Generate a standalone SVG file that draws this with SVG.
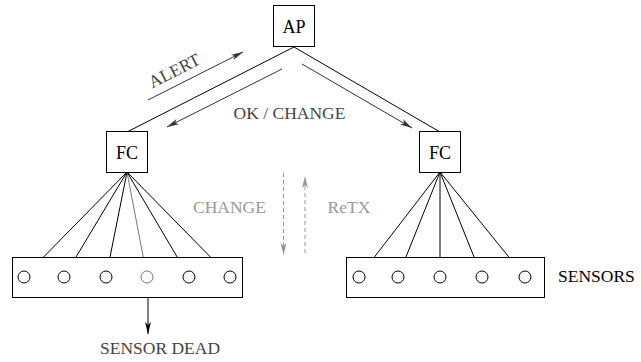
<svg xmlns="http://www.w3.org/2000/svg" width="641" height="362" viewBox="0 0 641 362">
  <style>
    .box { fill: #fff; stroke: #000; stroke-width: 1; }
    .sensor { fill: #fff; stroke: #000; stroke-width: 1; }
    .sensor.dead { stroke: #777; }
    .link { stroke: #000; stroke-width: 1; fill: none; }
    .link.dead { stroke: #777; }
    .msg { stroke: #333; stroke-width: 1; fill: none; }
    .retx { stroke: #999; stroke-width: 1; stroke-dasharray: 4 3; fill: none; }
    text { font-family: "Liberation Serif", "Times New Roman", serif; font-size: 17.5px; }
    .node-label { fill: #000; text-anchor: middle; font-size: 18px; }
    .msg-label { fill: #444; }
    .light-label { fill: #999; }
  </style>
  <defs>
    <marker id="arrow" viewBox="0 0 12 8" refX="12" refY="4" markerWidth="12" markerHeight="8" markerUnits="userSpaceOnUse" orient="auto">
      <path d="M0,1 L12,4 L0,7 L3,4 z" fill="#333"/>
    </marker>
    <marker id="arrow-black" viewBox="0 0 12 8" refX="12" refY="4" markerWidth="12" markerHeight="8" markerUnits="userSpaceOnUse" orient="auto">
      <path d="M0,1 L12,4 L0,7 L3,4 z" fill="#000"/>
    </marker>
    <marker id="arrow-light" viewBox="0 0 12 8" refX="12" refY="4" markerWidth="12" markerHeight="8" markerUnits="userSpaceOnUse" orient="auto">
      <path d="M0,1 L12,4 L0,7 L3,4 z" fill="#999"/>
    </marker>
  </defs>

  <!-- connectors -->
  <g id="connectors">
    <!-- AP to fusion centres -->
    <line class="link" x1="294" y1="47" x2="127" y2="132"/>
    <line class="link" x1="294" y1="47" x2="440" y2="132"/>

    <!-- left FC to its sensors -->
    <line class="link" x1="127" y1="172" x2="28.2" y2="272.7"/>
    <line class="link" x1="127" y1="172" x2="67.1" y2="271.9"/>
    <line class="link" x1="127" y1="172" x2="107.2" y2="271.1"/>
    <line class="link dead" x1="127" y1="172" x2="145.9" y2="271.1"/>
    <line class="link" x1="127" y1="172" x2="185.9" y2="271.8"/>
    <line class="link" x1="127" y1="172" x2="225.8" y2="272.7"/>

    <!-- right FC to its sensors -->
    <line class="link" x1="440" y1="172" x2="362.7" y2="272.2"/>
    <line class="link" x1="440" y1="172" x2="400.2" y2="271.4"/>
    <line class="link" x1="440" y1="172" x2="440" y2="271"/>
    <line class="link" x1="440" y1="172" x2="479.8" y2="271.4"/>
    <line class="link" x1="440" y1="172" x2="521.2" y2="272.3"/>

    <!-- message arrows -->
    <line class="msg" x1="148" y1="100" x2="243" y2="52" marker-end="url(#arrow)"/>
    <line class="msg" x1="282" y1="69" x2="167" y2="127" marker-end="url(#arrow)"/>
    <line class="msg" x1="302" y1="64" x2="412" y2="128" marker-end="url(#arrow)"/>

    <!-- change / retransmission -->
    <line class="retx" x1="283.5" y1="173" x2="283.5" y2="255" marker-end="url(#arrow-light)"/>
    <line class="retx" x1="305" y1="253" x2="305" y2="176" marker-end="url(#arrow-light)"/>

    <!-- dead sensor report -->
    <line class="link" x1="148" y1="292" x2="148" y2="334" marker-end="url(#arrow-black)"/>
  </g>

  <!-- access point -->
  <g id="ap">
    <rect class="box" x="273.5" y="5.5" width="41" height="41"/>
    <text class="node-label" x="294" y="32.5">AP</text>
  </g>

  <!-- fusion centres -->
  <g id="fc-left">
    <rect class="box" x="106.5" y="131.5" width="41" height="41"/>
    <text class="node-label" x="127" y="159">FC</text>
  </g>
  <g id="fc-right">
    <rect class="box" x="419.5" y="131.5" width="41" height="41"/>
    <text class="node-label" x="440" y="159">FC</text>
  </g>

  <!-- sensor clusters -->
  <g id="sensors-left">
    <rect class="box" x="12.5" y="257.5" width="230" height="40"/>
    <circle class="sensor" cx="24" cy="277" r="6"/>
    <circle class="sensor" cx="64" cy="277" r="6"/>
    <circle class="sensor" cx="106" cy="277" r="6"/>
    <circle class="sensor dead" cx="147" cy="277" r="6"/>
    <circle class="sensor" cx="189" cy="277" r="6"/>
    <circle class="sensor" cx="230" cy="277" r="6"/>
  </g>
  <g id="sensors-right">
    <rect class="box" x="346.5" y="257.5" width="198" height="40"/>
    <circle class="sensor" cx="359" cy="277" r="6"/>
    <circle class="sensor" cx="398" cy="277" r="6"/>
    <circle class="sensor" cx="440" cy="277" r="6"/>
    <circle class="sensor" cx="482" cy="277" r="6"/>
    <circle class="sensor" cx="525" cy="277" r="6"/>
  </g>

  <!-- labels -->
  <g id="labels">
    <text class="msg-label" x="177" y="76" text-anchor="middle" transform="rotate(-27 177 76)">ALERT</text>
    <text class="msg-label" x="289.5" y="119" text-anchor="middle">OK / CHANGE</text>
    <text class="light-label" x="229.5" y="213" text-anchor="middle">CHANGE</text>
    <text class="light-label" x="349" y="213" text-anchor="middle">ReTX</text>
    <text fill="#000" x="558" y="282" font-size="18.5">SENSORS</text>
    <text class="msg-label" x="160" y="354" text-anchor="middle">SENSOR DEAD</text>
  </g>
</svg>
